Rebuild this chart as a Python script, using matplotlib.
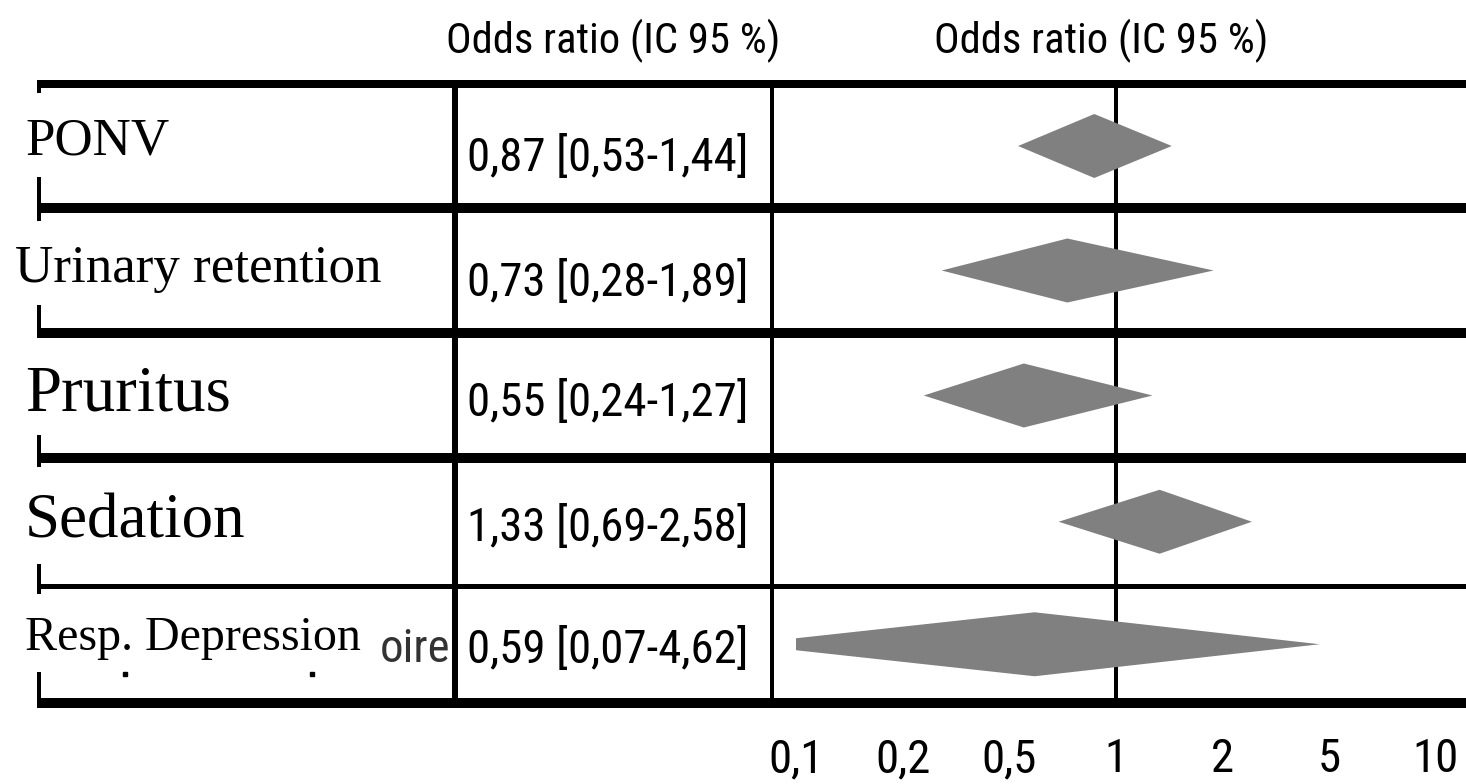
import numpy as np
import matplotlib
matplotlib.use("Agg")
import matplotlib.pyplot as plt
from matplotlib import font_manager
from matplotlib.patches import Polygon

# ---- data -------------------------------------------------------------
outcomes = ["PONV", "Urinary retention", "Pruritus", "Sedation", "Resp. Depression"]
odds_ratio = [0.87, 0.73, 0.55, 1.33, 0.59]
ci_low = [0.53, 0.28, 0.24, 0.69, 0.07]
ci_high = [1.44, 1.89, 1.27, 2.58, 4.62]
tick_values = [0.1, 0.2, 0.5, 1, 2, 5, 10]
header = "Odds ratio (IC 95 %)"

# ---- canvas ----------------------------------------------------------
W, H, DPI = 1466, 784, 100
PT = 72 / DPI  # points per pixel


def fr_num(v):
    return f"{v:.2f}".replace(".", ",")


def fr_tick(v):
    return f"{v:g}".replace(".", ",")


def pick_narrow():
    entries = font_manager.fontManager.ttflist
    names = {f.name for f in entries}
    for cand in ("Liberation Sans Narrow", "Arial Narrow", "Roboto Condensed",
                 "Open Sans Condensed", "DejaVu Sans Condensed"):
        if cand in names:
            return cand, "normal"
    for f in entries:
        if f.name == "DejaVu Sans" and str(f.stretch) in ("condensed", "semi-condensed",
                                                        "extra-condensed"):
            return "DejaVu Sans", "condensed"
    return "Liberation Sans", "normal"


NARROW, NARROW_STRETCH = pick_narrow()
SERIF = "Liberation Serif"

# evenly spaced log steps between the reference ticks (0.1, 0.2, 0.5, 1, 2, 5, 10)
_knots = np.log10([0.05, 0.1, 0.2, 0.5, 1, 2, 5, 10, 20])
_steps = np.arange(-1, len(_knots) - 1, dtype=float)


def fwd(x):
    x = np.clip(np.asarray(x, dtype=float), 1e-6, None)
    return np.interp(np.log10(x), _knots, _steps)


def inv(p):
    return 10 ** np.interp(np.asarray(p, dtype=float), _steps, _knots)


# table geometry (pixels from top-left)
line_y = [84, 208, 333, 458, 585.5, 703]
line_w = [8, 10, 10, 10, 5, 10]
stub_top = [9, 13, 4, 9, 8]
stub_bot = [31, 28, 23, 22, 31]
label_x = [25, 15, 25, 25, 25]
label_base = [154, 282, 410, 538, 650]
label_px = [53, 53, 65, 63, 48]
value_y = [157, 282, 402, 527, 649]

fig = plt.figure(figsize=(W / DPI, H / DPI), dpi=DPI)
fig.patch.set_facecolor("white")

tab = fig.add_axes([0, 0, 1, 1])
tab.set_xlim(0, W)
tab.set_ylim(H, 0)
tab.axis("off")

# horizontal rules
for y, lw in zip(line_y, line_w):
    tab.hlines(y, 37, W, color="black", lw=lw * PT)
# column rules
tab.vlines(455, line_y[0], line_y[-1], color="black", lw=6 * PT)
tab.vlines(772, line_y[0], line_y[-1], color="black", lw=4 * PT)
# left border, broken where the row labels sit
for i in range(len(outcomes)):
    tab.vlines(39, line_y[i], line_y[i] + stub_top[i], color="black", lw=4 * PT)
    tab.vlines(39, line_y[i + 1] - stub_bot[i], line_y[i + 1], color="black", lw=4 * PT)

# row labels
for name, x, yb, px in zip(outcomes, label_x, label_base, label_px):
    tab.text(x, yb, name, family=SERIF, fontsize=px * PT, ha="left", va="baseline",
             color="black")

narrow_kw = dict(family=NARROW, stretch=NARROW_STRETCH, color="black")
base_size = 48 * PT

# leftover fragment of the last row label
frag = tab.text(380, 662, "oire", fontsize=base_size, ha="left", va="baseline",
                **{**narrow_kw, "color": "#333333"})
tab.plot([125, 312], [674, 674], ls="none", marker="s", ms=4 * PT, color="black")

# column headers
hdr = [tab.text(cx, 53, header, fontsize=base_size, ha="center", va="baseline", **narrow_kw)
       for cx in (613, 1101)]

# odds ratio text column
vals = []
for orv, lo, hi, yv in zip(odds_ratio, ci_low, ci_high, value_y):
    s = f"{fr_num(orv)} [{fr_num(lo)}-{fr_num(hi)}]"
    vals.append(tab.text(608, yv, s, fontsize=base_size, ha="center", va="center",
                         **narrow_kw))

# forest panel
fx0 = 796
ax = fig.add_axes([fx0 / W, 1 - line_y[-1] / H, (W - fx0) / W,
                   (line_y[-1] - line_y[0]) / H])
ax.set_xscale("function", functions=(fwd, inv))
ax.set_xlim(0.1, 12.2)
ax.set_ylim(line_y[-1], line_y[0])
ax.patch.set_alpha(0)
for s in ax.spines.values():
    s.set_visible(False)
ax.set_yticks([])
ax.axvline(1, color="black", lw=4 * PT, zorder=1)

half_h = 32
for i, (orv, lo, hi) in enumerate(zip(odds_ratio, ci_low, ci_high)):
    yc = (line_y[i] + line_y[i + 1]) / 2
    ax.add_patch(Polygon([(lo, yc), (orv, yc - half_h), (hi, yc), (orv, yc + half_h)],
                         closed=True, facecolor="#808080", edgecolor="none", zorder=3))

ax.set_xticks(tick_values, labels=[fr_tick(v) for v in tick_values])
ax.minorticks_off()
ax.tick_params(axis="x", length=0, pad=34 * PT)

# size the narrow text so the value column and headers keep their widths
fig.canvas.draw()
renderer = fig.canvas.get_renderer()
w_val = vals[0].get_window_extent(renderer).width
size = base_size * min(1.1, 282 / w_val)
w_hdr = hdr[0].get_window_extent(renderer).width
size_hdr = base_size * min(1.1, 335 / w_hdr)
for t in vals:
    t.set_fontsize(size)
for t in hdr:
    t.set_fontsize(size_hdr)
frag.set_fontsize(size)
for lab in ax.get_xticklabels():
    lab.set_fontproperties(font_manager.FontProperties(family=NARROW, stretch=NARROW_STRETCH,
                                                       size=size))

fig.savefig("out.png", dpi=DPI, facecolor="white")
